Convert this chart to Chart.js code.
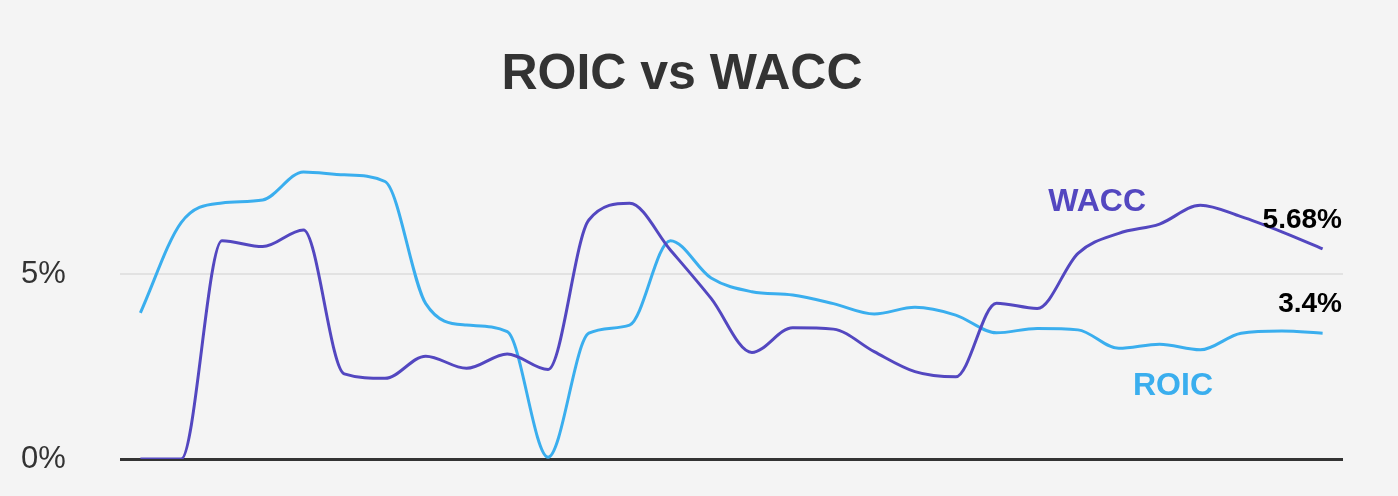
<!DOCTYPE html>
<html>
<head>
<meta charset="utf-8">
<script src="https://cdn.jsdelivr.net/npm/chart.js@4"></script>
<style>
  html, body { margin: 0; padding: 0; background: #f4f4f4; }
  #wrap { width: 1398px; height: 496px; }
</style>
</head>
<body>
<div id="wrap"><canvas id="c" width="1398" height="496"></canvas></div>
<script>
// ---- data ----
const periods = Array.from({length: 30}, (_, i) => 'P' + (i + 1));
const roic = [3.95, 6.39, 6.92, 7.0, 7.76, 7.68, 7.5, 4.2, 3.62, 3.44,
              0.05, 3.4, 3.62, 5.9, 4.89, 4.52, 4.43, 4.2, 3.92, 4.1,
              3.89, 3.41, 3.53, 3.49, 2.99, 3.1, 2.95, 3.4, 3.46, 3.4];
const wacc = [0, 0, 5.9, 5.74, 6.19, 2.3, 2.18, 2.78, 2.45, 2.84,
              2.42, 6.46, 6.91, 5.65, 4.34, 2.88, 3.55, 3.51, 2.9, 2.36,
              2.22, 4.21, 4.07, 5.56, 6.1, 6.35, 6.86, 6.55, 6.14, 5.68];
const yTicks = [0, 5];
const titleText = 'ROIC vs WACC';
const seriesNames = ['ROIC', 'WACC'];

const ROIC_COLOR = '#3aaeee';
const WACC_COLOR = '#5347c0';
const FONT = '"Liberation Sans", Arial, sans-serif';

const labelPlugin = {
  id: 'labels',
  afterDatasetsDraw(chart) {
    const ctx = chart.ctx;
    const x = chart.scales.x, y = chart.scales.y;
    const area = chart.chartArea;
    ctx.save();
    ctx.textBaseline = 'alphabetic';
    // series names
    ctx.font = 'bold 32px ' + FONT;
    ctx.textAlign = 'center';
    ctx.fillStyle = WACC_COLOR;
    ctx.fillText(seriesNames[1], x.getPixelForValue(23.47), y.getPixelForValue(6.7));
    ctx.fillStyle = ROIC_COLOR;
    ctx.fillText(seriesNames[0], x.getPixelForValue(25.33), y.getPixelForValue(1.73));
    // last values
    ctx.font = 'bold 28px ' + FONT;
    ctx.textAlign = 'right';
    ctx.fillStyle = '#000';
    const last = periods.length - 1;
    ctx.fillText(wacc[last].toFixed(2) + '%', area.right - 1, y.getPixelForValue(wacc[last]) - 21);
    ctx.fillText(roic[last] + '%', area.right - 1, y.getPixelForValue(roic[last]) - 21);
    ctx.restore();
  }
};

new Chart(document.getElementById('c'), {
  type: 'line',
  data: {
    labels: periods,
    datasets: [
      { label: seriesNames[1], data: wacc, borderColor: WACC_COLOR, borderWidth: 3,
        pointRadius: 0, cubicInterpolationMode: 'monotone', fill: false },
      { label: seriesNames[0], data: roic, borderColor: ROIC_COLOR, borderWidth: 3,
        pointRadius: 0, cubicInterpolationMode: 'monotone', fill: false }
    ]
  },
  options: {
    responsive: false,
    animation: false,
    layout: { padding: { left: 21, right: 55, top: 15, bottom: 37 } },
    plugins: {
      legend: { display: false },
      tooltip: { enabled: false },
      title: {
        display: true, text: titleText, color: '#333',
        font: { family: FONT, size: 50, weight: 'bold' },
        padding: { top: 30, bottom: 58 }
      }
    },
    scales: {
      x: { display: false, offset: true },
      y: {
        min: 0, max: 8,
        afterBuildTicks(s) { s.ticks = yTicks.map(v => ({ value: v })); },
        afterFit(s) { s.width = 99; },
        border: { display: false },
        grid: {
          drawTicks: false,
          color: c => c.tick && c.tick.value === 0 ? '#333333' : '#e2e2e2',
          lineWidth: c => c.tick && c.tick.value === 0 ? 3 : 2
        },
        ticks: {
          crossAlign: 'far', padding: 0, color: '#333',
          font: { family: FONT, size: 31 },
          callback: v => v + '%'
        }
      }
    }
  },
  plugins: [labelPlugin]
});
</script>
</body>
</html>
